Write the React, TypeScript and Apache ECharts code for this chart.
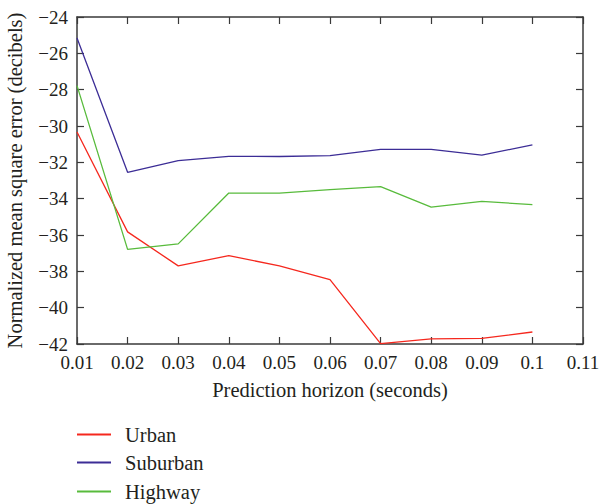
import React, { useEffect, useRef } from "react";
import * as echarts from "echarts";

const horizons = [0.01, 0.02, 0.03, 0.04, 0.05, 0.06, 0.07, 0.08, 0.09, 0.1];
const urban = [-30.33, -35.83, -37.7, -37.14, -37.7, -38.46, -41.98, -41.72, -41.69, -41.34];
const suburban = [-25.16, -32.55, -31.91, -31.67, -31.68, -31.63, -31.29, -31.29, -31.6, -31.04];
const highway = [-27.78, -36.79, -36.49, -33.69, -33.7, -33.5, -33.34, -34.46, -34.15, -34.33];
const seriesNames = ["Urban", "Suburban", "Highway"];
const colors = ["#f5281e", "#3c2d96", "#58bb3c"];

const FONT = "'Liberation Serif', 'DejaVu Serif', serif";
const TXT = "#231f20";
const AX = "#3a3a3a";

const fmtY = (v: number) => (v < 0 ? "\u2212" + Math.abs(v) : String(v));
const fmtX = (v: number) => String(parseFloat(v.toFixed(2)));

export default function App() {
  const ref = useRef<HTMLDivElement>(null);
  useEffect(() => {
    if (!ref.current) return;
    const chart = echarts.init(ref.current, undefined, { renderer: "svg" });
    const values = [urban, suburban, highway];
    const axisLine = { show: true, lineStyle: { color: AX, width: 1.5 } };
    const axisTick = { show: true, inside: true, length: 7, lineStyle: { color: AX, width: 1.2 } };
    const legendTops = [424, 452, 481];
    chart.setOption({
      animation: false,
      grid: { left: 77, right: 17, top: 17, bottom: 160, containLabel: false, outerBoundsMode: "none" },
      xAxis: [
        {
          type: "value",
          min: 0.01,
          max: 0.11,
          interval: 0.01,
          position: "bottom",
          axisLine,
          axisTick,
          splitLine: { show: false },
          axisLabel: { formatter: fmtX, fontFamily: FONT, fontSize: 19, color: TXT, margin: 9 },
          name: "Prediction horizon (seconds)",
          nameLocation: "middle",
          nameGap: 35,
          nameTextStyle: { fontFamily: FONT, fontSize: 20.5, color: TXT },
        },
        {
          type: "value",
          min: 0.01,
          max: 0.11,
          interval: 0.01,
          position: "top",
          axisLine,
          axisTick,
          splitLine: { show: false },
          axisLabel: { show: false },
        },
      ],
      yAxis: [
        {
          type: "value",
          min: -42,
          max: -24,
          interval: 2,
          position: "left",
          axisLine,
          axisTick,
          splitLine: { show: false },
          axisLabel: { formatter: fmtY, fontFamily: FONT, fontSize: 19, color: TXT, margin: 9 },
          name: "Normalized mean square error (decibels)",
          nameLocation: "middle",
          nameGap: 52,
          nameTextStyle: { fontFamily: FONT, fontSize: 20.5, color: TXT },
        },
        {
          type: "value",
          min: -42,
          max: -24,
          interval: 2,
          position: "right",
          axisLine,
          axisTick,
          splitLine: { show: false },
          axisLabel: { show: false },
        },
      ],
      legend: seriesNames.map((name, i) => ({
        orient: "vertical",
        left: 77,
        top: legendTops[i],
        padding: 0,
        itemWidth: 34,
        itemHeight: 2,
        icon: "rect",
        textStyle: { fontFamily: FONT, fontSize: 20.5, color: TXT, lineHeight: 20, padding: [0, 0, 0, 9] },
        data: [name],
      })),
      series: seriesNames.map((name, i) => ({
        name,
        type: "line",
        xAxisIndex: 0,
        yAxisIndex: 0,
        data: horizons.map((h, j) => [h, values[i][j]]),
        showSymbol: false,
        symbol: "none",
        lineStyle: { color: colors[i], width: 1.3 },
        itemStyle: { color: colors[i] },
      })),
    });
    return () => chart.dispose();
  }, []);
  return (
    <div
      ref={ref}
      style={{ position: "fixed", left: 0, top: 0, width: 600, height: 504, background: "#fff" }}
    />
  );
}
